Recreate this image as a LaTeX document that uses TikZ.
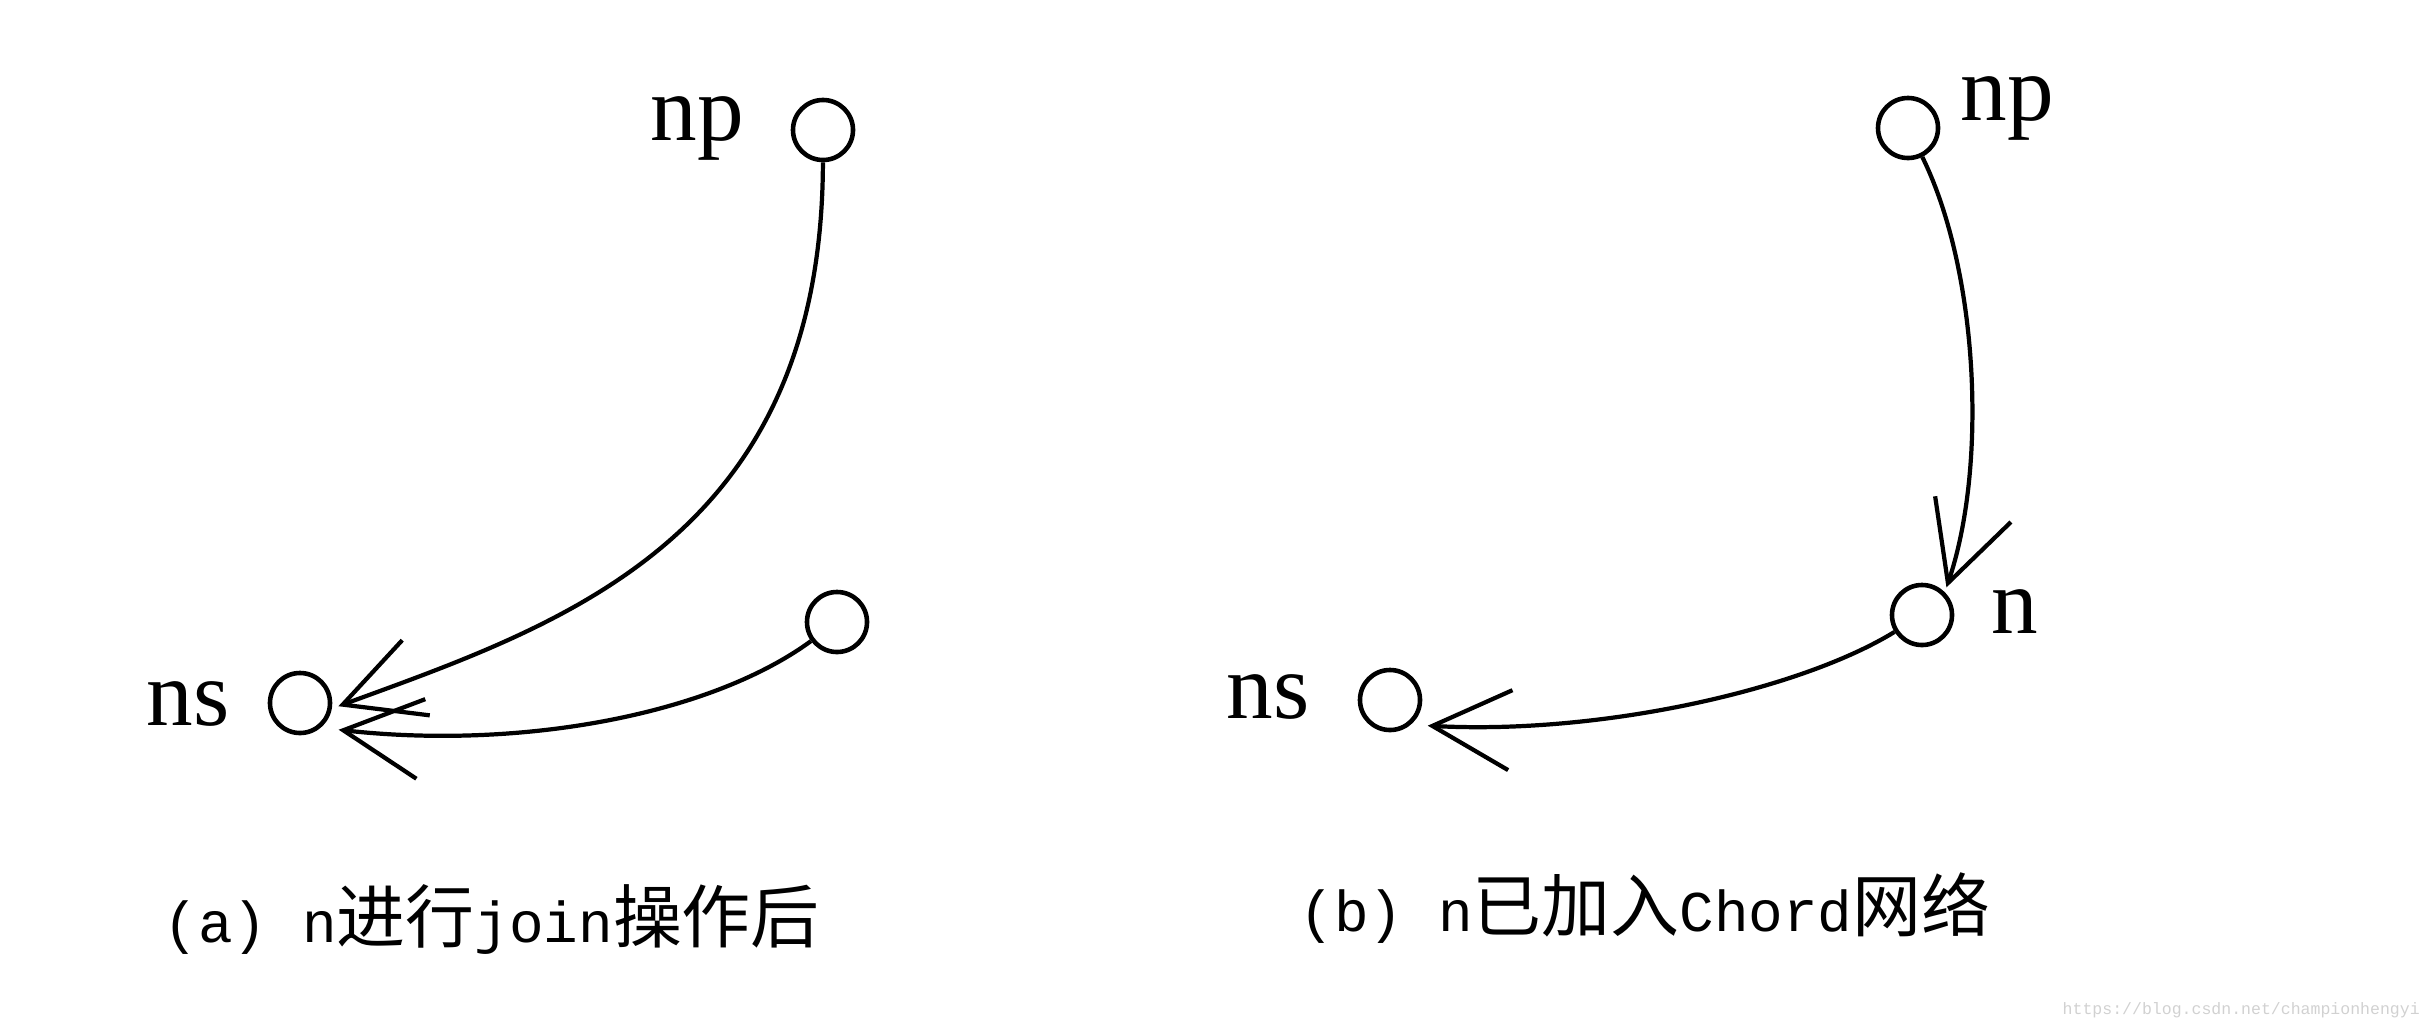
\documentclass[tikz,border=0pt]{standalone}
\usepackage{fontspec}
\usepackage{tikz}
\usetikzlibrary{arrows.meta}
\setmainfont{Liberation Serif}
\newfontfamily\cjkfont{Noto Sans CJK SC}
\newfontfamily\capmono{Liberation Mono}
\newcommand{\hz}[1]{{\cjkfont\fontsize{19.6}{22}\selectfont #1}}
\newcommand{\asc}[1]{{\capmono\fontsize{16.4}{22}\selectfont #1}}
\tikzset{
  peer/.style={draw, circle, line width=1.3pt, minimum size=0.6cm, inner sep=0pt},
  lbl/.style={anchor=base, inner sep=0pt, font=\fontsize{26.5}{30}\selectfont},
  link/.style={line width=1.2pt, -{Straight Barb[length=0.78cm, width=0.8cm]}},
  captext/.style={anchor=base west, inner sep=0pt},
}

\begin{document}
\begin{tikzpicture}[x=0.01cm, y=-0.01cm]
  \useasboundingbox (0,0) rectangle (2433,1030);

  % (a) n during join
  \node[peer] (npa) at (823,130) {};
  \node[peer] (na) at (837,622) {};
  \node[peer] (nsa) at (300,703) {};
  \node[lbl] (npalbl) at (697,140) {np};
  \node[lbl] (nsalbl) at (188,725) {ns};
  \draw[link, shorten >=0.07cm] (npa) .. controls (822,540) and (560,625) .. (nsa.-10);
  \draw[link, shorten >=0.18cm] (na) .. controls (710,715) and (520,750) .. (nsa.-50);

  % (b) n inside the ring
  \node[peer] (npb) at (1908,128) {};
  \node[peer] (nb) at (1922,615) {};
  \node[peer] (nsb) at (1390,700) {};
  \node[lbl] (npblbl) at (2007,120) {np};
  \node[lbl] (nblbl) at (2015,633) {n};
  \node[lbl] (nsblbl) at (1268,718) {ns};
  \draw[link, shorten >=0.05cm] (npb) .. controls (1978,270) and (1988,465) .. (nb.45);
  \draw[link, shorten >=0.17cm] (nb) .. controls (1800,690) and (1600,735) .. (nsb.-50);

  % captions
  \node[captext] (capa) at (163,942) {\asc{(a) n}\hz{进行}\asc{join}\hz{操作后}};
  \node[captext] (capb) at (1299,931) {\asc{(b) n}\hz{已加入}\asc{Chord}\hz{网络}};
  \node[anchor=west, inner sep=0pt, text=black!18, font=\capmono\fontsize{4.7}{6}\selectfont] (wmark) at (2062,1010) {https://blog.csdn.net/championhengyi};
\end{tikzpicture}
\end{document}
